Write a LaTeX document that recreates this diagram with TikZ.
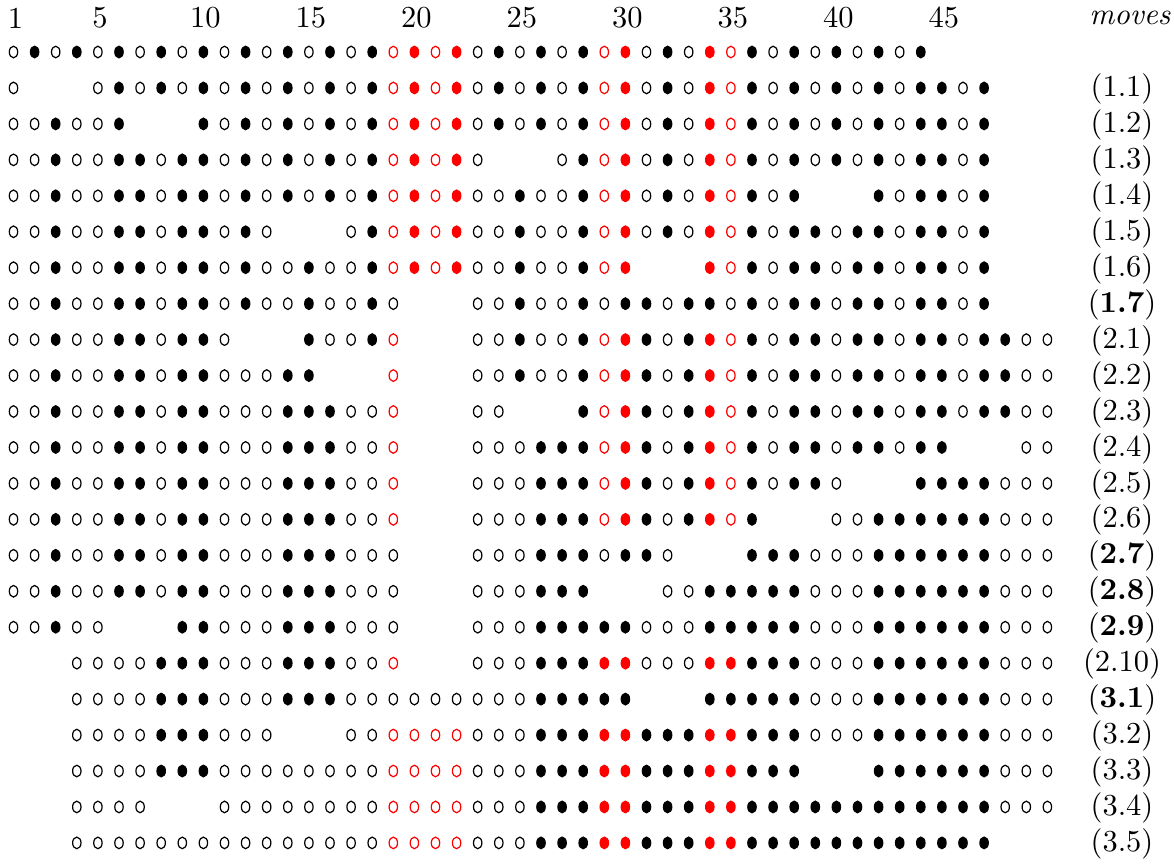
\documentclass[tikz,border=0pt]{standalone}
\usepackage{tikz}
\usepackage{xcolor}
\definecolor{MoveRed}{HTML}{FF0000}
\tikzset{
  po/.style={draw=black,fill=white,line width=0.4pt},
  pb/.style={draw=black,fill=black,line width=0.4pt},
  pr/.style={draw=MoveRed,fill=white,line width=0.4pt},
  pf/.style={draw=MoveRed,fill=MoveRed,line width=0.4pt},
  pn/.style={},
}
\begin{document}
\begin{tikzpicture}[x=0.328pt,y=-0.328pt]
  \useasboundingbox (0,0) rectangle (1174,867);
  % 列号
  \foreach \k in {1,5,10,...,45}
    \node (col\k) at ({15.5+(\k-1)*21.1},18) {\k};
  \node (moves) at (1130,18) {\textit{moves}};
  % 各行棋子
  \foreach \row/\lab [count=\j from 0] in {
    {o,b,o,b,o,b,o,b,o,b,o,b,o,b,o,b,o,b,r,f,r,f,o,b,o,b,o,b,r,f,o,b,o,f,r,b,o,b,o,b,o,b,o,b}/{},
    {o,n,n,n,o,b,o,b,o,b,o,b,o,b,o,b,o,b,r,f,r,f,o,b,o,b,o,b,r,f,o,b,o,f,r,b,o,b,o,b,o,b,o,b,b,o,b}/{(1.1)},
    {o,o,b,o,o,b,n,n,n,b,o,b,o,b,o,b,o,b,r,f,r,f,o,b,o,b,o,b,r,f,o,b,o,f,r,b,o,b,o,b,o,b,o,b,b,o,b}/{(1.2)},
    {o,o,b,o,o,b,b,o,b,b,o,b,o,b,o,b,o,b,r,f,r,f,o,n,n,n,o,b,r,f,o,b,o,f,r,b,o,b,o,b,o,b,o,b,b,o,b}/{(1.3)},
    {o,o,b,o,o,b,b,o,b,b,o,b,o,b,o,b,o,b,r,f,r,f,o,o,b,o,o,b,r,f,o,b,o,f,r,b,o,b,n,n,n,b,o,b,b,o,b}/{(1.4)},
    {o,o,b,o,o,b,b,o,b,b,o,b,o,n,n,n,o,b,r,f,r,f,o,o,b,o,o,b,r,f,o,b,o,f,r,b,o,b,b,o,b,b,o,b,b,o,b}/{(1.5)},
    {o,o,b,o,o,b,b,o,b,b,o,b,o,o,b,o,o,b,r,f,r,f,o,o,b,o,o,b,r,f,n,n,n,f,r,b,o,b,b,o,b,b,o,b,b,o,b}/{(1.6)},
    {o,o,b,o,o,b,b,o,b,b,o,b,o,o,b,o,o,b,o,n,n,n,o,o,b,o,o,b,o,b,b,o,b,b,o,b,o,b,b,o,b,b,o,b,b,o,b}/{(\textbf{1.7})},
    {o,o,b,o,o,b,b,o,b,b,o,n,n,n,b,o,o,b,r,n,n,n,o,o,b,o,o,b,r,f,b,o,b,f,r,b,o,b,b,o,b,b,o,b,b,o,b,b,o,o}/{(2.1)},
    {o,o,b,o,o,b,b,o,b,b,o,o,o,b,b,n,n,n,r,n,n,n,o,o,b,o,o,b,r,f,b,o,b,f,r,b,o,b,b,o,b,b,o,b,b,o,b,b,o,o}/{(2.2)},
    {o,o,b,o,o,b,b,o,b,b,o,o,o,b,b,b,o,o,r,n,n,n,o,o,n,n,n,b,r,f,b,o,b,f,r,b,o,b,b,o,b,b,o,b,b,o,b,b,o,o}/{(2.3)},
    {o,o,b,o,o,b,b,o,b,b,o,o,o,b,b,b,o,o,r,n,n,n,o,o,o,b,b,b,r,f,b,o,b,f,r,b,o,b,b,o,b,b,o,b,b,n,n,n,o,o}/{(2.4)},
    {o,o,b,o,o,b,b,o,b,b,o,o,o,b,b,b,o,o,r,n,n,n,o,o,o,b,b,b,r,f,b,o,b,f,r,b,o,b,b,o,n,n,n,b,b,b,b,o,o,o}/{(2.5)},
    {o,o,b,o,o,b,b,o,b,b,o,o,o,b,b,b,o,o,r,n,n,n,o,o,o,b,b,b,r,f,b,o,b,f,r,b,n,n,n,o,o,b,b,b,b,b,b,o,o,o}/{(2.6)},
    {o,o,b,o,o,b,b,o,b,b,o,o,o,b,b,b,o,o,o,n,n,n,o,o,o,b,b,b,o,b,b,o,n,n,n,b,b,b,o,o,o,b,b,b,b,b,b,o,o,o}/{(\textbf{2.7})},
    {o,o,b,o,o,b,b,o,b,b,o,o,o,b,b,b,o,o,o,n,n,n,o,o,o,b,b,b,n,n,n,o,o,b,b,b,b,b,o,o,o,b,b,b,b,b,b,o,o,o}/{(\textbf{2.8})},
    {o,o,b,o,o,n,n,n,b,b,o,o,o,b,b,b,o,o,o,n,n,n,o,o,o,b,b,b,b,b,o,o,o,b,b,b,b,b,o,o,o,b,b,b,b,b,b,o,o,o}/{(\textbf{2.9})},
    {n,n,n,o,o,o,o,b,b,b,o,o,o,b,b,b,o,o,r,n,n,n,o,o,o,b,b,b,f,f,o,o,o,f,f,b,b,b,o,o,o,b,b,b,b,b,b,o,o,o}/{(2.10)},
    {n,n,n,o,o,o,o,b,b,b,o,o,o,b,b,b,o,o,o,o,o,o,o,o,o,b,b,b,b,b,n,n,n,b,b,b,b,b,o,o,o,b,b,b,b,b,b,o,o,o}/{(\textbf{3.1})},
    {n,n,n,o,o,o,o,b,b,b,o,o,o,n,n,n,o,o,r,r,r,r,o,o,o,b,b,b,f,f,b,b,b,f,f,b,b,b,o,o,o,b,b,b,b,b,b,o,o,o}/{(3.2)},
    {n,n,n,o,o,o,o,b,b,b,o,o,o,o,o,o,o,o,r,r,r,r,o,o,o,b,b,b,f,f,b,b,b,f,f,b,b,b,n,n,n,b,b,b,b,b,b,o,o,o}/{(3.3)},
    {n,n,n,o,o,o,o,n,n,n,o,o,o,o,o,o,o,o,r,r,r,r,o,o,o,b,b,b,f,f,b,b,b,f,f,b,b,b,b,b,b,b,b,b,b,b,b,o,o,o}/{(3.4)},
    {n,n,n,o,o,o,o,o,o,o,o,o,o,o,o,o,o,o,r,r,r,r,o,o,o,b,b,b,f,f,b,b,b,f,f,b,b,b,b,b,b,b,b,b,b,b,b}/{(3.5)}%
  }{
    \foreach \c [count=\i] in \row
      \path[p\c] ({13.5+(\i-1)*21.1},{52+\j*35.95}) ellipse (4.2 and 5.8);
    % 行标
    \ifnum\j>0
      \node (lab\j) at (1122,{53+\j*35.95}) {\lab};
    \fi
  }
\end{tikzpicture}
\end{document}
